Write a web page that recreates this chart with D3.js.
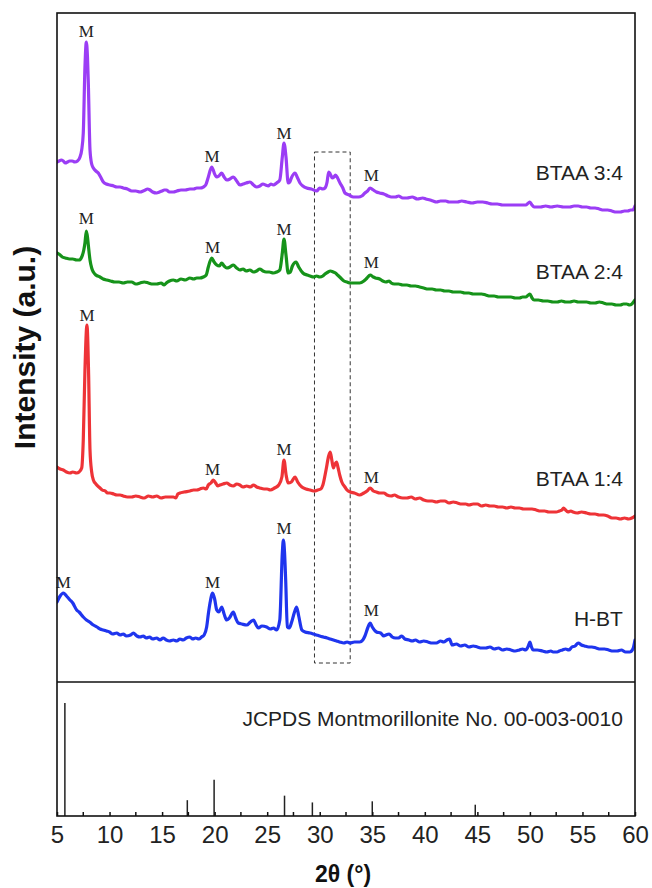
<!DOCTYPE html>
<html>
<head>
<meta charset="utf-8">
<script src="https://cdn.jsdelivr.net/npm/d3@7"></script>
<style>
  html, body { margin: 0; padding: 0; background: #fff; }
  svg { display: block; }
</style>
</head>
<body>
<div id="chart"></div>
<script>
// XRD patterns of H-BT and the BTAA composites, stacked with vertical offsets (a.u.)
const seriesNames = ["H-BT", "BTAA 1:4", "BTAA 2:4", "BTAA 3:4"];
const seriesColors = ["#1f35ee", "#ee3337", "#16931a", "#9b3df5"];

const hbt = [
  [5.0,80],[5.3,86],[5.6,89],[5.9,86],[6.24,82],[6.5,79],[6.87,72],[7.1,70],[7.5,65],[7.8,62],
  [8.1,60],[8.46,57],[8.8,55],[9.1,53],[9.41,52],[9.7,51],[10.0,50],[10.3,48],[10.68,49],[11.0,47],
  [11.3,48],[11.6,46],[12.0,47],[12.26,49],[12.6,46],[12.9,45],[13.2,46],[13.5,44],[13.8,45],[14.1,43],
  [14.48,44],[14.8,42],[15.1,44],[15.4,42],[15.7,41],[16.07,42],[16.4,41],[16.7,43],[17.0,42],[17.3,44],
  [17.65,45],[17.9,43],[18.2,44],[18.5,43],[18.76,45],[19.0,47],[19.24,55],[19.4,68],[19.56,79],[19.81,89],
  [20.0,83],[20.2,72],[20.4,70],[20.67,75],[20.9,68],[21.15,62],[21.4,64],[21.78,70],[22.0,64],[22.25,59],
  [22.6,58],[23.05,57],[23.4,60],[23.7,62],[23.95,57],[24.16,54],[24.5,56],[24.95,55],[25.3,53],[25.6,54],
  [25.9,52],[26.2,62],[26.44,129],[26.54,142],[26.65,130],[26.76,102],[26.92,55],[27.1,54],[27.33,60],[27.6,70],
  [27.8,75],[28.0,66],[28.3,52],[28.6,50],[29.07,49],[29.4,48],[29.7,47],[30.0,46],[30.34,45],[30.7,44],
  [31.0,43],[31.3,42],[31.6,41],[31.9,40],[32.3,39],[32.6,40],[32.9,39],[33.3,40],[33.8,40],[34.1,42],
  [34.3,46],[34.6,55],[34.8,59],[35.0,55],[35.4,50],[35.8,49],[36.1,46],[36.3,47],[36.6,48],[36.9,45],
  [37.2,44],[37.5,44],[37.8,46],[38.1,43],[38.5,42],[38.8,41],[39.1,42],[39.5,40],[39.9,41],[40.3,40],
  [40.7,39],[41.1,39],[41.5,41],[41.8,40],[42.1,42],[42.35,43],[42.6,37],[43.0,38],[43.4,36],[43.8,37],
  [44.2,35],[44.6,36],[45.0,35],[45.4,34],[45.8,34],[46.2,35],[46.6,33],[47.0,34],[47.4,32],[47.8,33],
  [48.2,32],[48.6,31],[49.0,32],[49.3,33],[49.6,32],[49.85,36],[50.0,40],[50.15,35],[50.3,32],[50.7,32],
  [51.2,31],[51.6,30],[52.0,31],[52.2,30],[52.6,30],[52.8,31],[53.1,32],[53.4,33],[53.7,32],[54.0,35],
  [54.3,36],[54.6,39],[54.9,37],[55.2,36],[55.6,35],[55.9,35],[56.3,34],[56.7,33],[57.1,33],[57.5,32],
  [57.9,31],[58.3,31],[58.7,32],[59.1,30],[59.5,30],[59.8,33],[60.0,42]
];

const btaa14 = [
  [5.0,215],[5.3,213],[5.6,212],[5.9,210],[6.24,209],[6.5,210],[6.87,209],[7.1,210],[7.35,214],[7.5,242],
  [7.66,312],[7.85,357],[8.0,312],[8.14,232],[8.3,210],[8.46,202],[8.7,198],[9.09,194],[9.3,192],[9.6,191],
  [9.8,189],[10.04,189],[10.4,188],[10.7,187],[11.0,187],[11.3,186],[11.7,185],[12.1,185],[12.5,186],[12.9,185],
  [13.3,184],[13.7,186],[14.1,185],[14.48,186],[14.9,184],[15.3,185],[15.7,185],[16.07,185],[16.3,184],[16.5,188],
  [16.7,189],[17.1,190],[17.65,191],[18.0,192],[18.3,192],[18.6,193],[18.92,194],[19.2,193],[19.4,197],[19.65,199],
  [19.88,202],[20.1,199],[20.3,196],[20.5,197],[20.8,198],[21.15,199],[21.45,197],[21.78,196],[22.1,198],[22.4,197],
  [22.7,195],[23.05,196],[23.4,195],[23.7,197],[24.0,195],[24.3,194],[24.7,193],[25.0,193],[25.3,192],[25.7,194],
  [26.1,197],[26.4,205],[26.6,222],[26.8,207],[27.0,199],[27.3,200],[27.65,205],[27.9,200],[28.3,195],[28.7,193],
  [29.1,192],[29.5,191],[29.8,192],[30.1,193],[30.3,197],[30.6,212],[30.85,226],[31.0,230],[31.15,222],[31.3,214],
  [31.45,218],[31.6,220],[31.75,214],[31.9,207],[32.1,200],[32.4,195],[32.6,192],[32.9,190],[33.3,189],[33.8,187],
  [34.2,189],[34.5,191],[34.8,194],[35.1,191],[35.4,190],[35.7,189],[36.1,189],[36.4,187],[36.8,186],[37.1,187],
  [37.5,185],[37.9,184],[38.3,184],[38.7,185],[39.1,183],[39.5,184],[39.9,182],[40.3,181],[40.7,181],[41.1,180],
  [41.5,181],[41.9,181],[42.3,179],[42.7,180],[43.1,179],[43.5,178],[43.9,178],[44.2,177],[44.6,178],[45.0,178],
  [45.4,176],[45.8,177],[46.2,176],[46.6,176],[47.0,175],[47.4,175],[47.8,174],[48.2,175],[48.6,174],[49.0,174],
  [49.4,173],[49.8,173],[50.2,173],[50.6,172],[51.0,171],[51.4,171],[51.8,170],[52.2,170],[52.5,170],[52.8,171],
  [53.05,172],[53.2,174],[53.4,172],[53.6,170],[53.9,171],[54.1,170],[54.5,169],[54.9,170],[55.4,169],[55.8,168],
  [56.2,168],[56.6,167],[57.0,167],[57.4,166],[57.8,164],[58.2,164],[58.6,163],[59.0,164],[59.4,163],[59.7,164],
  [60.0,166]
];

const btaa24 = [
  [5.0,429],[5.3,427],[5.5,425],[5.8,424],[6.2,423],[6.5,423],[6.87,422],[7.1,422],[7.35,425],[7.55,432],
  [7.66,439],[7.79,451],[7.9,445],[7.98,437],[8.14,422],[8.3,414],[8.46,410],[8.7,407],[9.09,405],[9.4,403],
  [9.72,402],[10.1,401],[10.5,400],[10.9,400],[11.3,399],[11.7,400],[12.1,400],[12.5,398],[12.9,399],[13.3,400],
  [13.7,399],[14.1,398],[14.5,398],[14.9,399],[15.2,397],[15.4,399],[15.7,401],[16.07,402],[16.4,401],[16.8,403],
  [17.2,402],[17.65,404],[18.0,403],[18.3,404],[18.6,404],[18.92,405],[19.2,407],[19.4,415],[19.72,424],[19.95,420],
  [20.2,417],[20.45,416],[20.67,419],[20.9,416],[21.15,414],[21.45,415],[21.78,417],[22.1,414],[22.4,412],[22.7,413],
  [23.0,411],[23.35,412],[23.7,410],[24.0,411],[24.3,413],[24.6,411],[24.9,410],[25.2,410],[25.58,409],[25.9,410],
  [26.2,412],[26.44,429],[26.6,443],[26.79,427],[27.0,409],[27.2,410],[27.4,416],[27.75,420],[28.0,415],[28.4,409],
  [28.8,407],[29.1,406],[29.4,405],[29.7,406],[30.0,405],[30.3,406],[30.5,408],[30.8,410],[31.0,411],[31.3,410],
  [31.5,409],[31.7,407],[32.0,404],[32.3,401],[32.6,400],[32.9,399],[33.3,399],[33.8,399],[34.2,401],[34.5,404],
  [34.8,407],[35.1,405],[35.3,404],[35.7,403],[36.0,401],[36.3,400],[36.6,401],[36.8,399],[37.1,398],[37.5,398],
  [37.9,397],[38.3,397],[38.7,396],[39.1,396],[39.5,395],[39.9,394],[40.3,393],[40.7,393],[41.1,392],[41.5,392],
  [41.9,391],[42.3,391],[42.7,390],[43.0,390],[43.4,390],[43.8,389],[44.2,389],[44.6,388],[45.0,388],[45.4,388],
  [45.8,387],[46.2,386],[46.6,386],[47.0,385],[47.4,385],[47.8,385],[48.2,385],[48.6,384],[49.0,384],[49.3,385],
  [49.6,385],[49.85,387],[50.0,388],[50.2,384],[50.4,382],[50.8,382],[51.3,381],[51.7,381],[52.2,380],[52.6,380],
  [53.0,381],[53.4,380],[53.8,380],[54.2,381],[54.6,380],[55.0,380],[55.4,380],[55.8,379],[56.2,379],[56.6,380],
  [57.0,379],[57.4,378],[57.8,378],[58.2,377],[58.6,377],[58.9,378],[59.2,378],[59.5,377],[59.7,378],[60.0,382]
];

const btaa34 = [
  [5.0,520],[5.2,521],[5.4,522],[5.6,521],[5.8,519],[6.0,520],[6.2,521],[6.45,521],[6.7,520],[6.95,521],
  [7.19,525],[7.35,532],[7.5,549],[7.66,615],[7.79,640],[7.9,625],[7.98,599],[8.14,532],[8.3,518],[8.46,514],
  [8.7,511],[8.93,509],[9.15,505],[9.41,500],[9.7,498],[10.04,497],[10.4,496],[10.7,495],[11.0,495],[11.3,494],
  [11.7,493],[12.1,491],[12.5,491],[12.9,490],[13.2,491],[13.4,492],[13.6,493],[13.85,492],[14.1,490],[14.48,489],
  [14.75,490],[15.0,491],[15.2,492],[15.4,492],[15.7,490],[16.07,490],[16.4,491],[16.8,492],[17.2,492],[17.65,493],
  [18.0,493],[18.3,494],[18.6,494],[18.92,495],[19.15,497],[19.4,505],[19.72,515],[19.9,511],[20.0,508],[20.2,505],
  [20.4,506],[20.67,509],[20.9,505],[21.15,502],[21.45,503],[21.78,505],[22.1,501],[22.4,497],[22.7,498],[23.0,499],
  [23.36,500],[23.7,497],[24.0,495],[24.3,496],[24.6,498],[24.85,497],[25.1,496],[25.35,498],[25.58,497],[25.9,499],
  [26.2,502],[26.44,525],[26.6,539],[26.79,525],[27.0,499],[27.15,500],[27.3,504],[27.65,509],[27.85,505],[28.12,499],
  [28.4,496],[28.76,494],[29.2,493],[29.71,491],[30.0,494],[30.3,493],[30.5,494],[30.7,500],[30.85,510],[31.0,508],
  [31.2,504],[31.35,505],[31.5,507],[31.7,504],[31.93,499],[32.2,494],[32.4,489],[32.8,487],[33.2,485],[33.45,485],
  [33.7,485],[34.0,486],[34.3,489],[34.55,491],[34.8,494],[35.1,492],[35.4,490],[35.7,489],[36.1,488],[36.5,486],
  [36.8,485],[37.2,485],[37.5,486],[37.9,484],[38.3,484],[38.8,485],[39.3,483],[39.8,484],[40.1,483],[40.5,482],
  [40.8,481],[41.1,480],[41.5,481],[42.0,481],[42.3,480],[42.7,480],[43.1,480],[43.5,481],[44.0,480],[44.5,479],
  [45.0,480],[45.5,480],[46.0,479],[46.4,478],[46.9,478],[47.4,477],[47.9,477],[48.5,477],[49.0,477],[49.6,477],
  [49.85,479],[50.0,480],[50.2,477],[50.4,475],[51.0,475],[51.5,476],[52.0,475],[52.6,476],[53.2,475],[53.8,475],
  [54.2,476],[54.6,476],[55.0,475],[55.4,475],[55.8,474],[56.2,474],[56.6,473],[57.0,472],[57.4,472],[57.8,471],
  [58.2,470],[58.6,470],[59.0,471],[59.3,471],[59.6,472],[59.8,472],[60.0,476]
];

const seriesData = [hbt, btaa14, btaa24, btaa34];

// "M" (montmorillonite) reflection markers: [2θ, intensity] per pattern
const mMarks = [
  [[5.6,94],[19.8,94],[26.6,148],[34.9,66]],
  [[7.85,361],[19.8,207],[26.6,227],[34.9,199]],
  [[7.8,458],[19.8,429],[26.6,447],[34.9,414]],
  [[7.8,645],[19.75,520],[26.6,543],[34.9,501]]
];

// label anchor intensity for each pattern name
const nameLevels = [56, 196, 403, 502];

// highlighted 2θ window (dashed box)
const boxTheta = [29.5, 32.9];
const boxLevels = [19, 530];

// JCPDS 00-003-0010 reference lines: 2θ and relative intensity
const refTheta = [5.75, 17.4, 19.95, 26.65, 29.3, 35.0, 44.8];
const refInt = [100, 14, 32, 18, 12, 13, 10];
const refLabel = "JCPDS Montmorillonite No. 00-003-0010";

const xTicks = [5, 10, 15, 20, 25, 30, 35, 40, 45, 50, 55, 60];
const xMinorTicks = [7.5, 12.5, 17.5, 22.5, 27.5, 32.5, 37.5, 42.5, 47.5, 52.5, 57.5];

(function draw() {
  const W = 652, H = 888;
  const pLeft = 57, pRight = 635, pTop = 13, pMid = 682, pBottom = 816;

  const svg = d3.select("#chart").append("svg")
    .attr("width", W).attr("height", H);

  const x = d3.scaleLinear().domain([5, 60]).range([pLeft, pRight]);
  const y = d3.scaleLinear().domain([0, 669]).range([pMid, pTop]);
  const yRef = d3.scaleLinear().domain([0, 118.6]).range([pBottom, pMid]);

  const sansFont = "'Liberation Sans', Arial, Helvetica, sans-serif";
  const serifFont = "'Liberation Serif', 'Times New Roman', serif";

  // dashed box
  svg.append("rect")
    .attr("x", x(boxTheta[0])).attr("y", y(boxLevels[1]))
    .attr("width", x(boxTheta[1]) - x(boxTheta[0]))
    .attr("height", y(boxLevels[0]) - y(boxLevels[1]))
    .attr("fill", "none").attr("stroke", "#333")
    .attr("stroke-width", 1).attr("stroke-dasharray", "4,3");

  // patterns
  const line = d3.line()
    .x(d => x(d[0])).y(d => y(d[1]))
    .curve(d3.curveMonotoneX);

  svg.append("clipPath").attr("id", "clip")
    .append("rect").attr("x", pLeft).attr("y", pTop)
    .attr("width", pRight - pLeft).attr("height", pMid - pTop);

  seriesData.forEach((data, i) => {
    svg.append("path")
      .datum(data)
      .attr("clip-path", "url(#clip)")
      .attr("d", line)
      .attr("fill", "none")
      .attr("stroke", seriesColors[i])
      .attr("stroke-width", 3.2)
      .attr("stroke-linejoin", "round")
      .attr("stroke-linecap", "round");
  });

  // M markers
  mMarks.forEach(marks => {
    svg.append("g").selectAll("text")
      .data(marks).join("text")
      .attr("x", d => x(d[0])).attr("y", d => y(d[1]))
      .attr("text-anchor", "middle")
      .attr("font-family", serifFont)
      .attr("font-size", 17)
      .attr("fill", "#222")
      .text("M");
  });

  // pattern names
  svg.append("g").selectAll("text")
    .data(seriesNames).join("text")
    .attr("x", x(58.85)).attr("y", (d, i) => y(nameLevels[i]))
    .attr("text-anchor", "end")
    .attr("font-family", sansFont)
    .attr("font-size", 21)
    .attr("fill", "#222")
    .text(d => d);

  // reference sticks
  svg.append("g").selectAll("line")
    .data(refTheta).join("line")
    .attr("x1", d => x(d)).attr("x2", d => x(d))
    .attr("y1", yRef(0)).attr("y2", (d, i) => yRef(refInt[i]))
    .attr("stroke", "#222").attr("stroke-width", 1.5);

  svg.append("text")
    .attr("x", x(58.85)).attr("y", yRef(79.6))
    .attr("text-anchor", "end")
    .attr("font-family", sansFont)
    .attr("font-size", 21)
    .attr("fill", "#222")
    .text(refLabel);

  // frame and divider
  const frame = svg.append("g").attr("fill", "none").attr("stroke", "#111").attr("stroke-width", 1.6);
  frame.append("rect").attr("x", pLeft).attr("y", pTop)
    .attr("width", pRight - pLeft).attr("height", pBottom - pTop);
  frame.append("line").attr("x1", pLeft).attr("x2", pRight).attr("y1", pMid).attr("y2", pMid);

  // x axis with inward ticks
  const xAxis = svg.append("g").attr("transform", `translate(0,${pBottom})`)
    .call(d3.axisBottom(x).tickValues(xTicks).tickSize(-4).tickPadding(10).tickFormat(d3.format("d")));
  xAxis.select(".domain").remove();
  xAxis.selectAll(".tick line").attr("stroke", "#111").attr("stroke-width", 1.5);
  xAxis.selectAll(".tick text")
    .attr("font-family", sansFont).attr("font-size", 24).attr("fill", "#222")
    .attr("dy", "0.71em");

  svg.append("g").selectAll("line")
    .data(xMinorTicks).join("line")
    .attr("x1", d => x(d)).attr("x2", d => x(d))
    .attr("y1", pBottom).attr("y2", pBottom - 4)
    .attr("stroke", "#111").attr("stroke-width", 1.5);

  // axis titles
  svg.append("text")
    .attr("x", 343).attr("y", 882)
    .attr("text-anchor", "middle")
    .attr("font-family", sansFont).attr("font-weight", "bold")
    .attr("font-size", 23).attr("fill", "#111")
    .text("2θ (°)");

  svg.append("text")
    .attr("transform", `translate(35,${(pTop + pMid) / 2}) rotate(-90)`)
    .attr("text-anchor", "middle")
    .attr("font-family", sansFont).attr("font-weight", "bold")
    .attr("font-size", 30).attr("fill", "#111")
    .text("Intensity (a.u.)");
})();
</script>
</body>
</html>
